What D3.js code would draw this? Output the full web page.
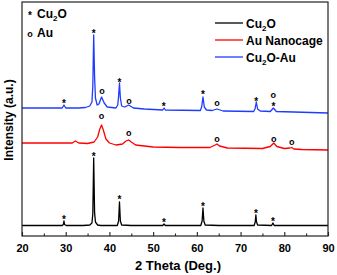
<!DOCTYPE html>
<html>
<head>
<meta charset="utf-8">
<script src="https://cdn.jsdelivr.net/npm/d3@7"></script>
<style>
  body { margin: 0; background: #fff; }
  text { font-family: "Liberation Sans", Arial, sans-serif; font-weight: bold; }
</style>
</head>
<body>
<svg id="xrd" width="337" height="275"></svg>
<script>
// [2 theta, intensity (a.u.)]
const cu2o = [[20,10.5],[25,10.5],[29.2,10.5],[29.45,11.5],[29.6,15],[29.75,11.5],[30.1,10.5],[34,10.5],[35.5,11],[36,13],[36.2,22],[36.4,78],[36.6,24],[36.8,14],[37.3,11],[38,10.5],[41.8,10.5],[42.1,15],[42.3,34],[42.5,15],[42.8,11],[45,10.5],[52.2,10.5],[52.5,12],[52.8,10.5],[60.9,10.5],[61.2,15],[61.4,28],[61.6,15],[61.9,11],[65,10.5],[73.1,10.5],[73.35,14],[73.5,21],[73.65,14],[73.9,11],[77.1,10.5],[77.4,13],[77.7,10.5],[90,10.5]];
const auCage = [[20,93],[28,93],[31.5,93],[32.2,95],[33,93],[35,92.5],[36.5,94],[37.3,99],[37.8,107],[38.2,111],[38.6,106],[39.2,97],[40,93],[41.5,91],[43,92],[43.8,95],[44.4,96],[45,94],[46,91],[50,89],[56,88.5],[63,88.5],[64.2,91],[64.6,92],[65.2,90],[67,88],[75,87.5],[76.8,89.5],[77.6,93],[78.3,89.5],[80,87.5],[81.3,88],[81.7,88.5],[82.2,87],[84,86.5],[90,86]];
const cu2oAu = [[20,128],[25,128],[29.2,128],[29.6,131],[30,128],[33,128],[34.5,128.5],[35.5,130],[36,134],[36.2,150],[36.4,201],[36.6,160],[36.8,138],[37.2,131],[37.6,132],[38.2,139],[38.8,133],[39.5,129],[41.5,128],[41.9,131],[42.1,140],[42.3,153],[42.5,138],[42.8,130],[43.5,129],[44.4,131],[45.5,128],[48,127],[52.2,126],[52.5,128],[52.8,126],[60.8,125.5],[61.1,129],[61.4,139],[61.7,129],[62.2,126],[63.5,125.5],[64.6,127],[66,125],[73,124.5],[73.3,127],[73.6,134],[73.9,127],[74.5,125],[76.8,124.5],[77.5,128],[78.2,124.5],[90,123]];

// peak markers [2 theta, intensity]
const cu2oStars = [[29.6,19],[36.4,82],[42.3,39],[52.5,16],[61.4,32],[73.5,25],[77.4,17]];
const auRings = [[38.2,119],[44.4,102],[64.6,96],[77.6,96],[81.7,93]];
const mixStars = [[29.6,135],[36.4,205],[42.3,156],[52.4,132],[61.4,144],[73.6,137],[77.5,132]];
const mixRings = [[38.3,144],[44.5,134],[64.6,132],[77.5,140.5]];

const xTicks = [20, 30, 40, 50, 60, 70, 80, 90];
const xMinor = [25, 35, 45, 55, 65, 75, 85];

const series = [
  { name: ["Cu", "2", "O"], data: cu2o, color: "#000000" },
  { name: ["Au Nanocage"], data: auCage, color: "#ff0000" },
  { name: ["Cu", "2", "O-Au"], data: cu2oAu, color: "#1e3cff" }
];

const svg = d3.select("#xrd");
const margin = { top: 2, right: 9, bottom: 39, left: 22 };
const width = +svg.attr("width") - margin.left - margin.right;
const height = +svg.attr("height") - margin.top - margin.bottom;

const x = d3.scaleLinear().domain([20, 90]).range([margin.left, margin.left + width]);
const y = d3.scaleLinear().domain([0, 234]).range([margin.top + height, margin.top]);

const line = d3.line().x(d => x(d[0])).y(d => y(d[1]));

// curves
svg.selectAll("path.curve").data(series)
  .join("path")
  .attr("class", "curve")
  .attr("d", d => line(d.data))
  .attr("fill", "none")
  .attr("stroke", d => d.color)
  .attr("stroke-width", 1.3)
  .attr("stroke-linejoin", "round");

// markers
function stars(data) {
  svg.append("g").selectAll("text").data(data)
    .join("text")
    .attr("x", d => x(d[0]))
    .attr("y", d => y(d[1]) + 5.5)
    .attr("text-anchor", "middle")
    .style("font-size", "10px")
    .text("*");
}
function rings(data) {
  svg.append("g").selectAll("text").data(data)
    .join("text")
    .attr("x", d => x(d[0]))
    .attr("y", d => y(d[1]) + 2.4)
    .attr("text-anchor", "middle")
    .style("font-size", "9px")
    .text("o");
}
stars(cu2oStars);
rings(auRings);
stars(mixStars);
rings(mixRings);

// frame
svg.append("rect")
  .attr("x", margin.left)
  .attr("y", margin.top)
  .attr("width", width)
  .attr("height", height)
  .attr("fill", "none")
  .attr("stroke", "#222")
  .attr("stroke-width", 1.2);

// x axis, ticks pointing inward
const xAxis = svg.append("g")
  .attr("transform", "translate(0," + (margin.top + height) + ")")
  .call(d3.axisBottom(x).tickValues(xTicks).tickSize(-4).tickPadding(8).tickFormat(d3.format("d")));
xAxis.select(".domain").remove();
xAxis.selectAll("line").attr("stroke", "#222").attr("stroke-width", 1.1);
xAxis.selectAll("text").style("font-size", "11px").attr("fill", "#000");

const xAxisMinor = svg.append("g")
  .attr("transform", "translate(0," + (margin.top + height) + ")")
  .call(d3.axisBottom(x).tickValues(xMinor).tickSize(-2.5).tickFormat(""));
xAxisMinor.select(".domain").remove();
xAxisMinor.selectAll("line").attr("stroke", "#222").attr("stroke-width", 1.1);

// axis titles
svg.append("text")
  .attr("x", 178)
  .attr("y", 270)
  .attr("text-anchor", "middle")
  .style("font-size", "13px")
  .text("2 Theta (Deg.)");

svg.append("text")
  .attr("transform", "translate(13,120) rotate(-90)")
  .attr("text-anchor", "middle")
  .style("font-size", "12px")
  .text("Intensity (a.u.)");

// top-left marker legend
svg.append("text").attr("x", 30).attr("y", 18.5).attr("text-anchor", "middle").style("font-size", "10px").text("*");
const lc = svg.append("text").attr("x", 37).attr("y", 18).style("font-size", "12px");
lc.append("tspan").text("Cu");
lc.append("tspan").attr("dy", 3).style("font-size", "8px").text("2");
lc.append("tspan").attr("dy", -3).text("O");
svg.append("text").attr("x", 30).attr("y", 37).attr("text-anchor", "middle").style("font-size", "9px").text("o");
svg.append("text").attr("x", 37).attr("y", 37).style("font-size", "12px").text("Au");

// series legend
const legend = svg.append("g").attr("transform", "translate(215,23)");
const rows = legend.selectAll("g").data(series)
  .join("g")
  .attr("transform", (d, i) => "translate(0," + (i * 17) + ")");
rows.append("line")
  .attr("x1", 0).attr("x2", 28)
  .attr("stroke", d => d.color)
  .attr("stroke-width", 1.3);
rows.append("text")
  .attr("x", 31)
  .attr("y", 4.5)
  .style("font-size", "12px")
  .each(function(d) {
    const t = d3.select(this);
    if (d.name.length === 1) { t.text(d.name[0]); return; }
    t.append("tspan").text(d.name[0]);
    t.append("tspan").attr("dy", 3).style("font-size", "8px").text(d.name[1]);
    t.append("tspan").attr("dy", -3).text(d.name[2]);
  });
</script>
</body>
</html>
